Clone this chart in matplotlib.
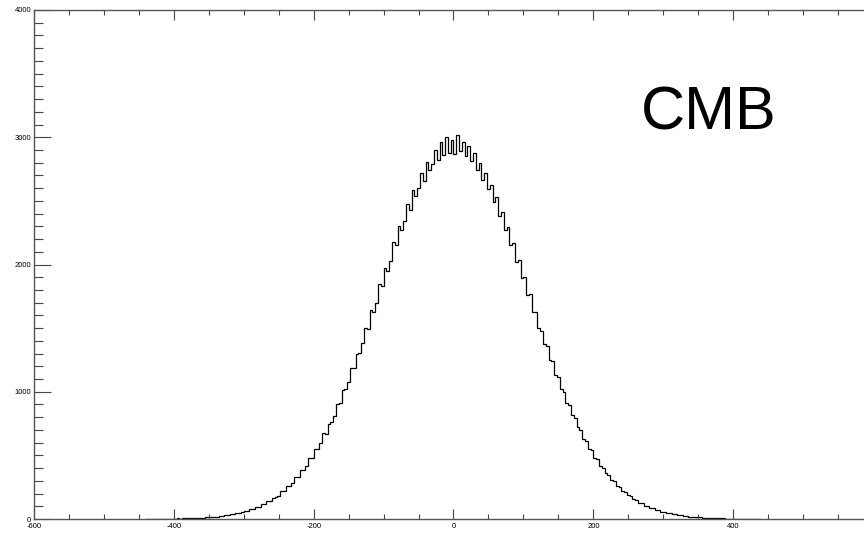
import numpy as np
import matplotlib.pyplot as plt
from matplotlib.ticker import MultipleLocator, FuncFormatter

plt.rcParams['font.family'] = ['Liberation Sans', 'DejaVu Sans']
plt.rcParams['axes.unicode_minus'] = False

# -------------------------------
# data: histogram of CMB map values (bin width 4)
# -------------------------------
bin_lo, bin_hi, bin_w = -440, 440, 4

counts_left = [
    0, 0, 1, 0, 1, 1, 2, 1, 2, 3,
    2, 4, 3, 5, 4, 7, 6, 8, 7, 11,
    10, 13, 15, 14, 19, 18, 24, 23, 30, 29,
    37, 38, 46, 47, 52, 66, 63, 80, 78, 97,
    94, 118, 114, 141, 139, 168, 170, 184, 222, 219,
    258, 262, 280, 330, 332, 385, 386, 418, 478, 480,
    552, 548, 598, 676, 670, 745, 760, 810, 905, 915,
    1010, 1020, 1078, 1185, 1190, 1300, 1305, 1385, 1500, 1495,
    1640, 1625, 1700, 1845, 1830, 1975, 1950, 2030, 2175, 2150,
    2300, 2270, 2340, 2475, 2430, 2585, 2540, 2600, 2720, 2660,
    2805, 2740, 2790, 2900, 2820, 2960, 2860, 3000, 2880, 2975,
]
counts_right = [
    2870, 3015, 2890, 2960, 2850, 2930, 2810, 2880, 2745, 2800,
    2665, 2720, 2590, 2625, 2490, 2530, 2380, 2410, 2270, 2295,
    2150, 2170, 2020, 2035, 1890, 1900, 1760, 1765, 1630, 1625,
    1500, 1480, 1375, 1360, 1250, 1240, 1130, 1115, 1020, 1000,
    912, 894, 815, 792, 722, 700, 632, 616, 552, 540,
    480, 470, 418, 404, 360, 348, 308, 298, 262, 253,
    221, 214, 186, 180, 155, 150, 129, 125, 106, 103,
    88, 84, 71, 69, 58, 56, 47, 45, 38, 36,
    30, 29, 24, 23, 19, 18, 15, 14, 12, 11,
    9, 9, 7, 6, 5, 6, 4, 3, 3, 2,
    3, 1, 2, 1, 1, 0, 1, 0, 0, 0,
]

counts = np.array(counts_left + counts_right)
edges = np.arange(bin_lo, bin_hi + bin_w, bin_w)

# -------------------------------
# plot
# -------------------------------
fig = plt.figure(figsize=(8.64, 5.34), dpi=100)
# IDL-style frame, right edge runs just past the image
ax = fig.add_axes([34/864, 15/534, 839/864, 509/534])

ax.stairs(counts, edges, color='black', lw=0.9)

ax.set_xlim(-600, 600)
ax.set_ylim(0, 4000)
ax.xaxis.set_major_locator(MultipleLocator(200))
ax.xaxis.set_minor_locator(MultipleLocator(50))
ax.yaxis.set_major_locator(MultipleLocator(1000))
ax.yaxis.set_minor_locator(MultipleLocator(100))
# last x label sits off the picture
ax.xaxis.set_major_formatter(FuncFormatter(lambda v, p: '' if v > 500 else f'{v:.0f}'))

for s in ax.spines.values():
    s.set_color('#555555')
    s.set_linewidth(1.0)

ax.tick_params(axis='both', which='both', direction='in', top=True, right=False,
               color='#444444', width=0.8, labelsize=5.5, labelcolor='black')
ax.tick_params(axis='x', which='major', length=7.2, pad=3)
ax.tick_params(axis='x', which='minor', length=3.6)
ax.tick_params(axis='y', which='major', length=12.2, pad=2)
ax.tick_params(axis='y', which='minor', length=6.5)

ax.text(709/864, 1 - 130/534, 'CMB', transform=fig.transFigure,
        fontsize=44, ha='center', va='baseline', color='black')

fig.savefig('out.png', dpi=100)
